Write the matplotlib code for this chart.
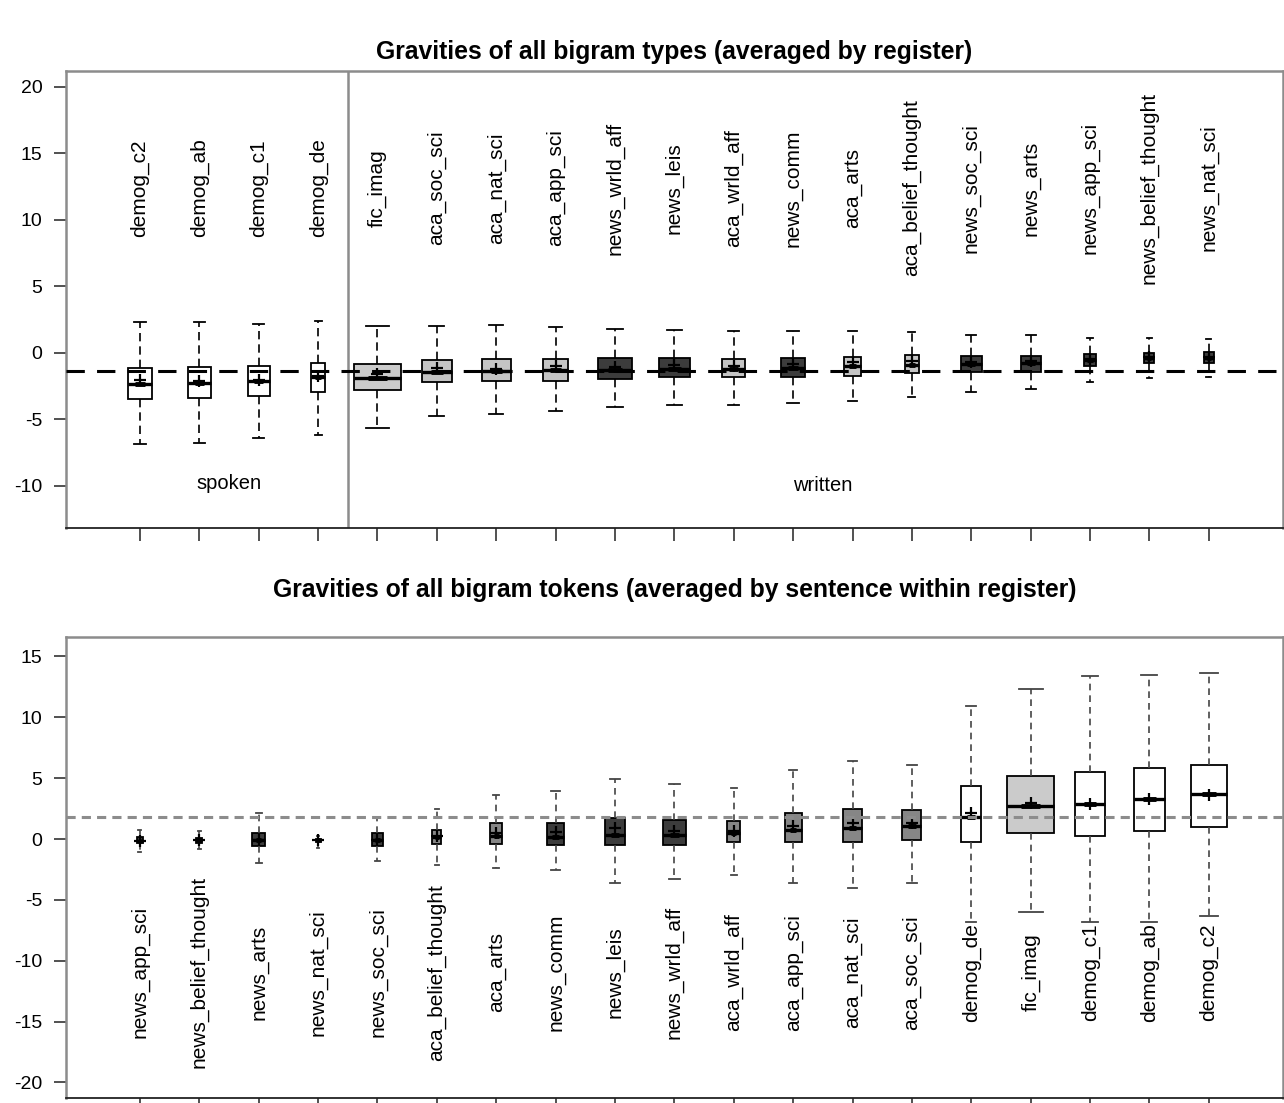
import numpy as np
import matplotlib
matplotlib.use("Agg")
import matplotlib.pyplot as plt

plt.rcParams['font.family'] = ['Liberation Sans', 'DejaVu Sans']
plt.rcParams['axes.unicode_minus'] = False

# ---- top panel: bigram types averaged by register ----
types_names = ["demog_c2", "demog_ab", "demog_c1", "demog_de", "fic_imag",
               "aca_soc_sci", "aca_nat_sci", "aca_app_sci", "news_wrld_aff",
               "news_leis", "aca_wrld_aff", "news_comm", "aca_arts",
               "aca_belief_thought", "news_soc_sci", "news_arts", "news_app_sci",
               "news_belief_thought", "news_nat_sci"]
types_whislo = [-6.84, -6.79, -6.37, -6.17, -5.62, -4.76, -4.61, -4.38, -4.08,
                -3.93, -3.91, -3.78, -3.59, -3.31, -2.91, -2.73, -2.16, -1.86, -1.83]
types_q1 = [-3.46, -3.36, -3.23, -2.96, -2.78, -2.20, -2.10, -2.10, -1.95,
            -1.83, -1.83, -1.78, -1.70, -1.53, -1.45, -1.43, -0.95, -0.78, -0.78]
types_med = [-2.35, -2.23, -2.13, -1.78, -1.90, -1.43, -1.35, -1.30, -1.30,
             -1.18, -1.18, -1.10, -0.98, -0.93, -0.83, -0.78, -0.53, -0.39, -0.35]
types_q3 = [-1.13, -1.08, -0.98, -0.73, -0.85, -0.53, -0.45, -0.43, -0.40,
            -0.35, -0.43, -0.35, -0.28, -0.17, -0.20, -0.20, -0.05, 0.02, 0.05]
types_whishi = [2.33, 2.33, 2.18, 2.43, 2.03, 2.03, 2.08, 1.97, 1.83,
                1.73, 1.68, 1.68, 1.68, 1.55, 1.33, 1.33, 1.13, 1.15, 1.08]
types_mean = [-2.03, -2.10, -2.00, -1.70, -1.58, -1.13, -1.20, -0.95, -1.05,
              -0.90, -0.95, -0.85, -0.70, -0.60, -0.65, -0.60, -0.45, -0.30, -0.30]
types_n = [271, 230, 210, 85, 1000, 391, 365, 293, 502, 417, 230, 250, 141,
           85, 191, 174, 73, 43, 43]
types_grand = -1.35

# ---- bottom panel: bigram tokens averaged by sentence ----
tok_names = ["news_app_sci", "news_belief_thought", "news_arts", "news_nat_sci",
             "news_soc_sci", "aca_belief_thought", "aca_arts", "news_comm",
             "news_leis", "news_wrld_aff", "aca_wrld_aff", "aca_app_sci",
             "aca_nat_sci", "aca_soc_sci", "demog_de", "fic_imag", "demog_c1",
             "demog_ab", "demog_c2"]
tok_whislo = [-1.07, -0.85, -1.97, -0.77, -1.81, -2.11, -2.39, -2.55, -3.60,
              -3.29, -2.96, -3.65, -4.05, -3.62, -6.80, -6.03, -6.80, -6.85, -6.30]
tok_q1 = [-0.35, -0.33, -0.58, -0.27, -0.55, -0.44, -0.44, -0.52, -0.50,
          -0.50, -0.25, -0.25, -0.25, -0.08, -0.27, 0.47, 0.27, 0.66, 0.99]
tok_med = [-0.14, -0.12, -0.08, -0.12, -0.05, 0.19, 0.25, 0.14, 0.33,
           0.33, 0.52, 0.74, 0.88, 1.07, 1.84, 2.72, 2.85, 3.26, 3.68]
tok_q3 = [0.14, 0.06, 0.47, 0.03, 0.47, 0.74, 1.29, 1.34, 1.75,
          1.56, 1.48, 2.11, 2.44, 2.38, 4.39, 5.16, 5.51, 5.84, 6.06]
tok_whishi = [0.74, 0.66, 2.11, 0.25, 1.84, 2.49, 3.65, 3.95, 4.91,
              4.52, 4.17, 5.65, 6.39, 6.06, 10.89, 12.30, 13.42, 13.47, 13.64]
tok_mean = [-0.15, -0.12, -0.05, -0.12, -0.05, 0.25, 0.50, 0.60, 0.88,
            0.69, 0.70, 1.07, 1.29, 1.30, 2.10, 2.95, 2.85, 3.30, 3.60]
tok_n = [16, 16, 73, 11, 63, 35, 63, 125, 191, 230, 73, 125, 157, 157, 174,
         1000, 417, 444, 563]
tok_grand = 1.81

W, H = 1284, 1103
fig = plt.figure(figsize=(W / 100, H / 100), dpi=100)

def box_color(name, panel):
    if name.startswith("demog"):
        return "white"
    if name.startswith("fic"):
        return "#cbcbcb"
    if name.startswith("news"):
        return "#3c3c3c"
    return "#c4c4c4" if panel == 0 else "#868686"

def draw_panel(ax, names, lo, q1, med, q3, hi, mean, n, panel):
    pos = np.arange(1, len(names) + 1)
    widths = 0.8 * np.sqrt(np.array(n)) / np.sqrt(max(n))
    stats = []
    for i in range(len(names)):
        stats.append(dict(med=med[i], q1=q1[i], q3=q3[i], whislo=lo[i],
                          whishi=hi[i], fliers=[], mean=mean[i]))
    wcol = "black" if panel == 0 else "#444444"
    dash = (0, (5, 3)) if panel == 0 else (0, (4, 3))
    bp = ax.bxp(stats, positions=pos, widths=widths, capwidths=widths * 0.5,
                patch_artist=True, showmeans=False, manage_ticks=False,
                boxprops=dict(edgecolor="black", linewidth=1.3),
                whiskerprops=dict(color=wcol, linestyle=dash, linewidth=1.2),
                capprops=dict(color=wcol, linewidth=1.3),
                medianprops=dict(color="black", linewidth=2.4))
    for patch, name in zip(bp["boxes"], names):
        patch.set_facecolor(box_color(name, panel))
    # mean marks
    ax.hlines(med, pos - widths * 0.2, pos + widths * 0.2, color="black",
              linewidth=3.5, zorder=4)
    ax.plot(pos, mean, linestyle="none", marker="+", markersize=9,
            markeredgewidth=1.6, color="black", zorder=5)
    return pos

# top panel
ax1 = fig.add_axes([66 / W, 1 - 528 / H, (1283 - 66) / W, (528 - 71) / H])
pos = draw_panel(ax1, types_names, types_whislo, types_q1, types_med, types_q3,
                 types_whishi, types_mean, types_n, 0)
ax1.axhline(types_grand, color="black", linestyle=(0, (6, 4)), linewidth=2.2, zorder=6)
ax1.axvline(4.5, color="#8c8c8c", linewidth=1.8)
for p, name in zip(pos, types_names):
    ax1.text(p, 12.4, name, rotation=90, ha="center", va="center", fontsize=15)
ax1.text(2.5, -9.8, "spoken", ha="center", va="center", fontsize=14.5)
ax1.text(12.5, -10.0, "written", ha="center", va="center", fontsize=14.5)
ax1.set_xlim(-0.246, 20.25)
ax1.set_ylim(-13.16, 21.2)
ax1.set_yticks([-10, -5, 0, 5, 10, 15, 20])
ax1.set_xticks(pos)
ax1.set_xticklabels([])

# bottom panel
ax2 = fig.add_axes([66 / W, 1 - 1098 / H, (1283 - 66) / W, (1098 - 637) / H])
pos = draw_panel(ax2, tok_names, tok_whislo, tok_q1, tok_med, tok_q3,
                 tok_whishi, tok_mean, tok_n, 1)
ax2.axhline(tok_grand, color="#8c8c8c", linestyle=(0, (3, 2)), linewidth=2.2, zorder=6)
for p, name in zip(pos, tok_names):
    ax2.text(p, -10.95, name, rotation=90, ha="center", va="center", fontsize=15)
ax2.set_xlim(-0.246, 20.25)
ax2.set_ylim(-21.28, 16.6)
ax2.set_yticks([-20, -15, -10, -5, 0, 5, 10, 15])
ax2.set_xticks(pos)
ax2.set_xticklabels([])

for ax in (ax1, ax2):
    for s in ("left", "top", "right"):
        ax.spines[s].set_color("#8c8c8c")
        ax.spines[s].set_linewidth(1.8)
    ax.spines["bottom"].set_color("#222222")
    ax.spines["bottom"].set_linewidth(1.3)
    ax.tick_params(axis="both", length=9, width=1.2, labelsize=14, pad=8,
                   color="#333333")

fig.text(674.5 / W, 1 - 52 / H, "Gravities of all bigram types (averaged by register)",
         ha="center", va="center", fontsize=17.8, fontweight="bold")
fig.text(674.5 / W, 1 - 590 / H,
         "Gravities of all bigram tokens (averaged by sentence within register)",
         ha="center", va="center", fontsize=17.8, fontweight="bold")

fig.savefig("out.png", dpi=100)
